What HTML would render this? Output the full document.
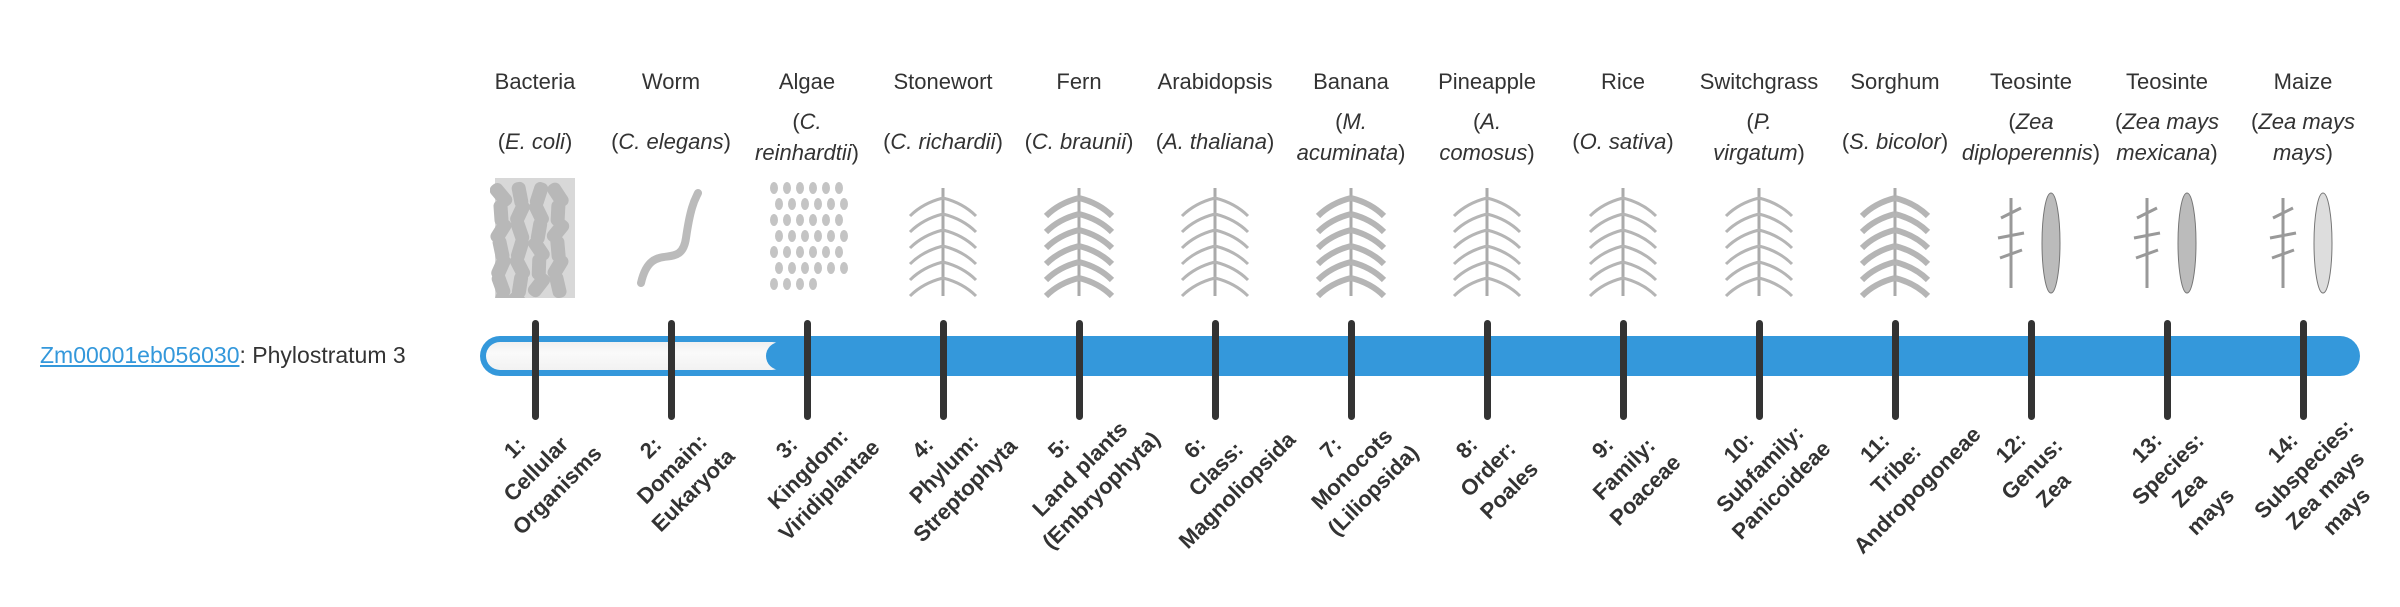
<!DOCTYPE html>
<html><head><meta charset="utf-8"><style>
body{margin:0;width:2400px;height:580px;background:#fff;position:relative;overflow:hidden;font-family:"Liberation Sans",sans-serif;color:#333}
.abs{position:absolute}
.name{position:absolute;top:67px;width:136px;text-align:center;font-size:22px;line-height:30px}
.sp{position:absolute;width:150px;text-align:center;font-size:22px;line-height:31px}
.sp i{font-style:italic}
.tick{position:absolute;top:320px;width:7px;height:100px;background:#333;border-radius:4px}
.lab{position:absolute;width:240px;text-align:center;font-size:22px;font-weight:bold;line-height:30px;transform-origin:50% 15px;transform:rotate(-45deg);white-space:nowrap}
svg.img{position:absolute;top:178px}
</style></head><body>
<div class="abs" style="left:40px;top:340px;font-size:23px;line-height:30px"><span style="color:#3498db;text-decoration:underline">Zm00001eb056030</span>: Phylostratum 3</div>

<div class="abs" style="left:480px;top:336px;width:1880px;height:40px;background:#3498db;border-radius:20px"></div>
<div class="abs" style="left:486px;top:342px;width:300px;height:28px;background:linear-gradient(#f0f0f0,#fafafa 40%,#f2f2f2);border-radius:14px"></div>
<div class="abs" style="left:766px;top:342px;width:40px;height:28px;background:#3498db;border-radius:14px 0 0 14px"></div>

<div id="c"></div>
<script>
var names=["Bacteria","Worm","Algae","Stonewort","Fern","Arabidopsis","Banana","Pineapple","Rice","Switchgrass","Sorghum","Teosinte","Teosinte","Maize"];
var sps=[["(<i>E. coli</i>)"],["(<i>C. elegans</i>)"],["(<i>C.</i>","<i>reinhardtii</i>)"],["(<i>C. richardii</i>)"],["(<i>C. braunii</i>)"],["(<i>A. thaliana</i>)"],["(<i>M.</i>","<i>acuminata</i>)"],["(<i>A.</i>","<i>comosus</i>)"],["(<i>O. sativa</i>)"],["(<i>P.</i>","<i>virgatum</i>)"],["(<i>S. bicolor</i>)"],["(<i>Zea</i>","<i>diploperennis</i>)"],["(<i>Zea mays</i>","<i>mexicana</i>)"],["(<i>Zea mays</i>","<i>mays</i>)"]];
var labs=[["1:","Cellular","Organisms"],["2:","Domain:","Eukaryota"],["3:","Kingdom:","Viridiplantae"],["4:","Phylum:","Streptophyta"],["5:","Land plants","(Embryophyta)"],["6:","Class:","Magnoliopsida"],["7:","Monocots","(Liliopsida)"],["8:","Order:","Poales"],["9:","Family:","Poaceae"],["10:","Subfamily:","Panicoideae"],["11:","Tribe:","Andropogoneae"],["12:","Genus:","Zea"],["13:","Species:","Zea","mays"],["14:","Subspecies:","Zea mays","mays"]];
var h="";
for(var i=0;i<14;i++){
 var x=532+136*i+3;
 h+='<div class="name" style="left:'+(x-68)+'px">'+names[i]+'</div>';
 var t=sps[i].length==1?126:106;
 h+='<div class="sp" style="left:'+(x-75)+'px;top:'+t+'px">'+sps[i].join("<br>")+'</div>';
 h+='<div class="tick" style="left:'+(x-3.5)+'px"></div>';
 h+='<div class="lab" style="left:'+(x-20-120)+'px;top:'+(448-15)+'px">'+labs[i].join("<br>")+'</div>';
 var s='<svg class="img" width="90" height="120" style="left:'+(x-45)+'px" viewBox="0 0 90 120">';
 if(i==0){s+='<rect x="5" y="0" width="80" height="120" fill="#d8d8d8"/>';for(var k=0;k<26;k++){var a=8+(k%4)*19,b=6+Math.floor(k/4)*18;s+='<rect x="'+(a-4)+'" y="'+(b-2)+'" width="14" height="26" rx="6" fill="#b8b8b8" transform="rotate('+((k*29)%80-40)+' '+(a+3)+' '+(b+11)+')"/>';}}
 else if(i==1){s+='<path d="M15 105 C25 60,55 95,60 60 S70 20,72 15" stroke="#bbb" stroke-width="8" fill="none" stroke-linecap="round"/>';}
 else if(i==2){for(var k=0;k<40;k++){s+='<ellipse cx="'+(12+(k%6)*13+(Math.floor(k/6)%2)*5)+'" cy="'+(10+Math.floor(k/6)*16)+'" rx="4" ry="6" fill="#c4c4c4"/>';}}
 else if(i>=11){s+='<path d="M25 110 L25 20 M15 40 L35 30 M12 60 L38 55 M14 80 L36 72" stroke="#999" stroke-width="3" fill="none"/><ellipse cx="65" cy="65" rx="9" ry="50" fill="'+(i==13?'#ddd':'#bbb')+'" stroke="#777"/>';}
 else {s+='<path d="M45 118 L45 10" stroke="#aaa" stroke-width="3"/>';for(var k=0;k<6;k++){var yy=20+k*16;s+='<path d="M45 '+yy+' Q25 '+(yy+5)+',12 '+(yy+18)+' M45 '+yy+' Q65 '+(yy+5)+',78 '+(yy+18)+'" stroke="#b5b5b5" stroke-width="'+(i==6||i==4||i==10?6:3)+'" fill="none"/>';}}
 s+='</svg>';
 h+=s;
}
document.getElementById("c").innerHTML=h;
</script>
</body></html>
